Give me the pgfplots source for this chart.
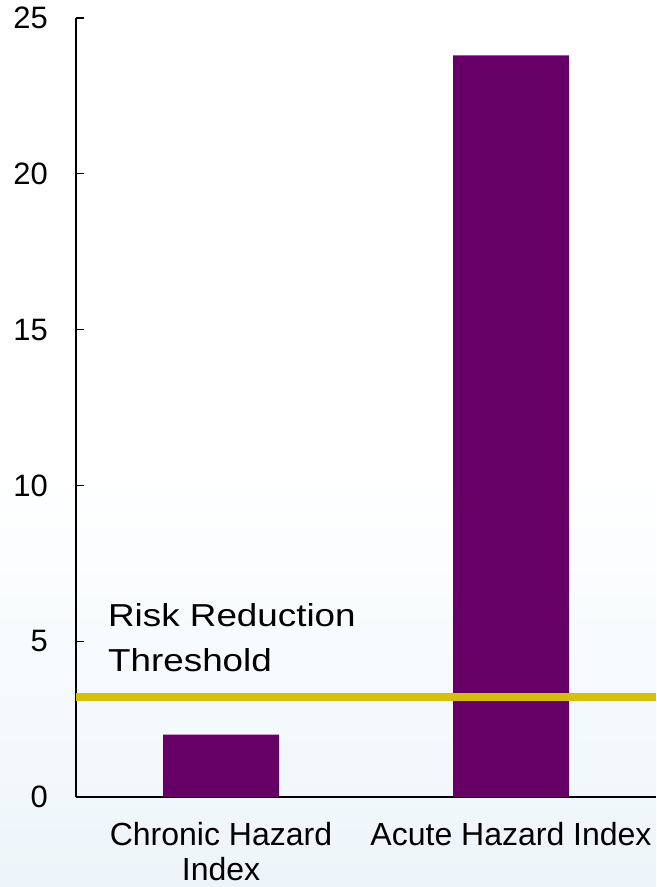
\documentclass[border=0pt]{standalone}
\usepackage{fontspec}
\setmainfont{Liberation Sans}
\newfontfamily\stretchfont[FakeStretch=1.16]{Liberation Sans}
\usepackage{pgfplots}
\pgfplotsset{compat=1.18}
\definecolor{barc}{RGB}{102,0,102}
\definecolor{thr}{RGB}{214,190,12}
\definecolor{bgb}{RGB}{237,245,250}
\pgfplotstableread{
x y
0.5 2.0
1.5 23.8
}\bardata
\pgfplotstableread{
x y
0 3.2
2 3.2
}\thrdata
\begin{document}
\begin{tikzpicture}
\fill[white] (0pt,0pt) rectangle (492pt,665.25pt);
\shade[bottom color=bgb, top color=white] (0pt,0pt) rectangle (492pt,315pt);
\useasboundingbox (0pt,0pt) rectangle (492pt,665.25pt);
\begin{axis}[
  at={(57pt,67.5pt)}, anchor=south west,
  scale only axis, width=435pt, height=584.25pt,
  xmin=0, xmax=2, ymin=0, ymax=25,
  axis x line*=bottom, axis y line*=left,
  axis line style={line width=1.1pt, black},
  xtick={0.5,1.5},
  xticklabels={{Chronic Hazard\\Index},{Acute Hazard Index}},
  xtick style={draw=none},
  ytick={0,5,10,15,20,25},
  tick align=inside,
  major tick length=6pt,
  ytick style={line width=1pt, black},
  /pgf/number format/assume math mode=true,
  yticklabel style={font=\fontsize{23.2}{23.2}\selectfont, inner sep=0pt, anchor=east, xshift=-21pt},
  xticklabel style={font=\fontsize{24}{26}\selectfont, inner sep=0pt, anchor=north, yshift=-19pt, align=center},
  clip=false,
]
\addplot[ybar, fill=barc, draw=none, bar width=0.4] table[x=x,y=y] {\bardata};
\addplot[thr, line width=6pt, sharp plot, no marks] table[x=x,y=y] {\thrdata};
\node[anchor=base west, inner sep=0pt, font=\stretchfont\fontsize{23.8}{23.8}\selectfont] at (axis cs:0.110,5.456) {Risk Reduction};
\node[anchor=base west, inner sep=0pt, font=\stretchfont\fontsize{23.8}{23.8}\selectfont] at (axis cs:0.110,4.04) {Threshold};
\end{axis}
\end{tikzpicture}
\end{document}
